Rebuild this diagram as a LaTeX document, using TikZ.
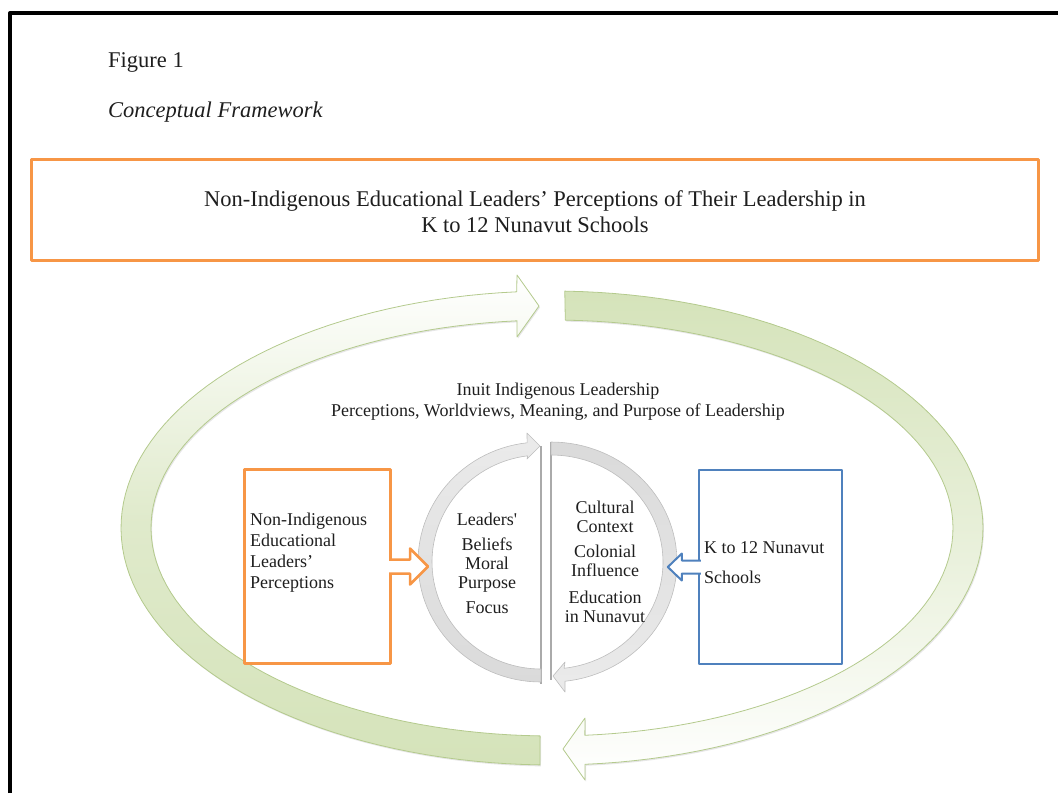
\documentclass[tikz,border=0pt]{standalone}
\usepackage{fontspec}
\setmainfont{Liberation Serif}
\usetikzlibrary{shadows}
\definecolor{leadorange}{HTML}{F79646}
\definecolor{schoolblue}{HTML}{4F81BD}
\definecolor{loopgreen}{HTML}{D5E3BA}
\definecolor{loopedge}{HTML}{B4CA8D}
\definecolor{wheelgray}{HTML}{DADADA}
\definecolor{wheeledge}{HTML}{BDBDBD}
\definecolor{ink}{HTML}{1E1E1E}
\begin{document}
\begin{tikzpicture}[x=1pt,y=-1pt,line join=round,
	big/.style={font=\fontsize{22.5}{26}\selectfont,text=ink,inner sep=0pt},
	small/.style={font=\fontsize{18}{21}\selectfont,text=ink,inner sep=0pt},
	wheel/.style={font=\fontsize{18}{19}\selectfont,text=ink,inner sep=0pt,align=center},
	orangebox/.style={draw=leadorange,line width=3pt,fill=white,inner sep=0pt},
	bluebox/.style={draw=schoolblue,line width=2.4pt,fill=white,inner sep=0pt},
	loop/.style={draw=loopedge,line width=.8pt,drop shadow={shadow xshift=1pt,shadow yshift=-1.5pt,opacity=.2}},
	band/.style={draw=wheeledge,line width=.6pt,top color=wheelgray!55,bottom color=wheelgray},
	flat/.style={draw=wheeledge!90!black,line width=1.4pt}]
	\useasboundingbox (0,0) rectangle (1058,793);
	\draw[line width=4pt] (10,793) -- (10,13) -- (1058,13);
	\node[big,anchor=base west] (fignum) at (108,67) {Figure 1};
	\node[big,anchor=base west] (figname) at (108,117) {\itshape Conceptual Framework};
	\node[orangebox,minimum width=1007pt,minimum height=101pt] (topic) at (535,210) {};
	\node[big,align=center] (topictxt) at (535,212) {Non-Indigenous Educational Leaders’ Perceptions of Their Leadership in\\K to 12 Nunavut Schools};
	% outer loop: two arrows chasing each other
	\draw[loop,samples=80,top color=white,bottom color=loopgreen,middle color=loopgreen!75]
		plot[domain=91.6:265.3] ({552+431*cos(\x)},{528+237*sin(\x)})
		-- (517,275) -- (539,306) -- (517,337)
		-- plot[domain=265:91.7] ({552+401*cos(\x)},{528+208*sin(\x)}) -- cycle;
	\draw[loop,samples=80,top color=loopgreen,bottom color=white,middle color=loopgreen!55]
		plot[domain=-88.3:445.6-360] ({552+431*cos(\x)},{528+237*sin(\x)})
		-- (585,780) -- (563,749) -- (585,718)
		-- plot[domain=85.3:-88.1] ({552+401*cos(\x)},{528+208*sin(\x)}) -- cycle;
	\node[orangebox,minimum width=146pt,minimum height=194pt] (nonind) at (317.5,566.5) {};
	\node[small,align=left,anchor=west] (nonindtxt) at ([xshift=7pt,yshift=13.5pt]nonind.west) {Non-Indigenous\\Educational\\Leaders’\\Perceptions};
	\node[bluebox,minimum width=143pt,minimum height=194pt] (k12) at (770.5,567) {};
	\node[small,align=left,anchor=west] (k12txt) at ([xshift=6pt,yshift=4pt]k12.west) {K to 12 Nunavut\\[9pt]Schools};
	% inner wheel
	\draw[flat] (541,446) -- (541,684);
	\draw[flat] (551,442) -- (551,680);
	\draw[band,samples=60]
		plot[domain=90:263.5] ({541+123*cos(\x)},{562+120*sin(\x)})
		-- (527,433) -- (540,446) -- (527,459)
		-- plot[domain=263:90] ({541+109*cos(\x)},{562+107*sin(\x)}) -- cycle;
	\draw[band,samples=60,top color=wheelgray,bottom color=wheelgray!55]
		plot[domain=-90:83.6] ({551+126*cos(\x)},{562+120*sin(\x)})
		-- (565,692) -- (553,676) -- (565,662)
		-- plot[domain=83.3:-90] ({551+112*cos(\x)},{562+107*sin(\x)}) -- cycle;
	% block arrows into the wheel
	\draw[draw=leadorange,line width=2.5pt,fill=white] ([shift={(-3,-7)}]nonind.east) -- ++(21,0) -- ++(0,-11) -- ++(18,18) -- ++(-18,18) -- ++(0,-11) -- ++(-21,0);
	\draw[draw=schoolblue,line width=2pt,fill=white] ([shift={(3,-6.5)}]k12.west) -- ++(-19,0) -- ++(0,-7) -- ++(-14,13.5) -- ++(14,13.5) -- ++(0,-7) -- ++(19,0);
	\node[small,align=center] (inuittxt) at (558,402) {Inuit Indigenous Leadership\\Perceptions, Worldviews, Meaning, and Purpose of Leadership};
	\node[wheel] (selftxt) at (487,563) {Leaders\textquotesingle\\[6pt]Beliefs\\Moral\\Purpose\\[6pt]Focus};
	\node[wheel] (placetxt) at (605,562) {Cultural\\Context\\[6pt]Colonial\\Influence\\[8pt]Education\\in Nunavut};
\end{tikzpicture}
\end{document}
